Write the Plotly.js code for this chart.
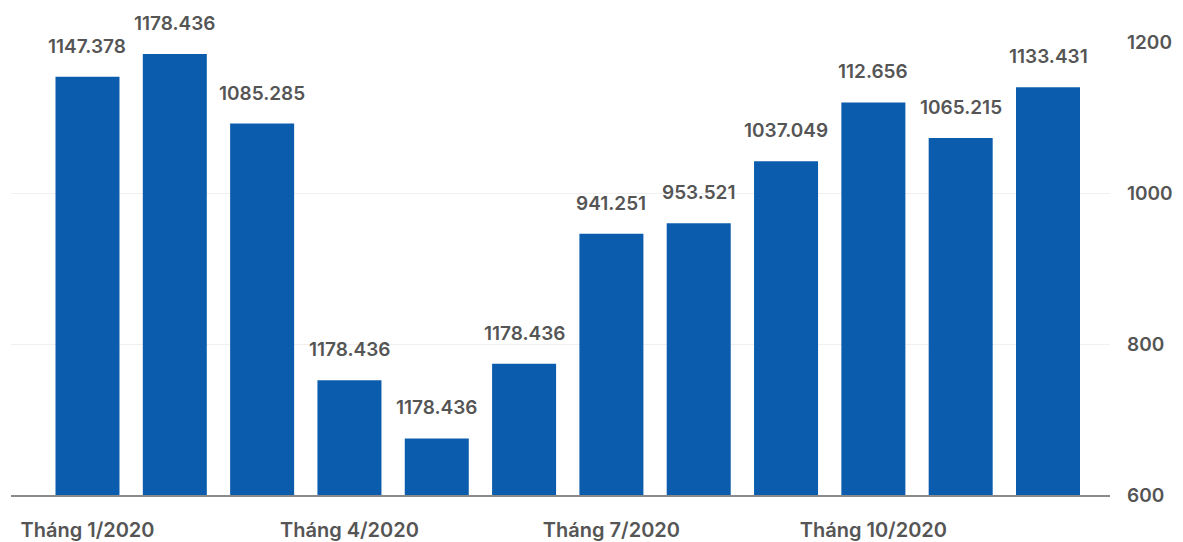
<!DOCTYPE html>
<html>
<head>
<meta charset="utf-8">
<script src="https://cdn.plot.ly/plotly-3.0.1.min.js"></script>
<style>html,body{margin:0;padding:0;background:#fff;}#chart{width:1183px;height:542px;}</style>
</head>
<body>
<div id="chart"></div>
<script>
const months = ["Tháng 1/2020","Tháng 2/2020","Tháng 3/2020","Tháng 4/2020","Tháng 5/2020","Tháng 6/2020","Tháng 7/2020","Tháng 8/2020","Tháng 9/2020","Tháng 10/2020","Tháng 11/2020","Tháng 12/2020"];
const values = [1154, 1184, 1092, 752, 675, 774, 946, 960, 1042, 1120, 1073, 1140];
const labels = ["1147.378","1178.436","1085.285","1178.436","1178.436","1178.436","941.251","953.521","1037.049","112.656","1065.215","1133.431"];
const shownTicks = ["Tháng 1/2020","Tháng 4/2020","Tháng 7/2020","Tháng 10/2020"];
const yTicks = [600, 800, 1000, 1200];

const fontFam = "Inter, 'Noto Sans', sans-serif";
const textColor = "#555555";

const trace = {
  type: "bar",
  x: months,
  y: values,
  marker: {color: "#0c5cad"},
  hoverinfo: "none"
};

const annotations = months.map((m, i) => ({
  x: m, y: values[i], xref: "x", yref: "y",
  text: labels[i], showarrow: false,
  yanchor: "bottom", yshift: 17,
  font: {family: fontFam, size: 19, color: textColor, weight: 600}
}));

const layout = {
  width: 1183, height: 542,
  margin: {l: 11, r: 73, t: 42, b: 47},
  paper_bgcolor: "#fff", plot_bgcolor: "#fff",
  bargap: 0.267,
  showlegend: false,
  xaxis: {
    type: "category",
    range: [-0.876, 11.71],
    tickmode: "array",
    tickvals: shownTicks,
    ticktext: shownTicks,
    showgrid: false,
    showline: true, linecolor: "#8a8a8a", linewidth: 1.5,
    ticks: "", ticklabelstandoff: 16,
    tickfont: {family: fontFam, size: 20, color: textColor, weight: 600},
    fixedrange: true
  },
  yaxis: {
    side: "right",
    range: [600, 1200],
    tickmode: "array",
    tickvals: yTicks,
    showgrid: true, gridcolor: "#f0f0f0", gridwidth: 1,
    zeroline: false, showline: false,
    ticks: "", ticklabelstandoff: 16,
    tickfont: {family: fontFam, size: 19, color: textColor, weight: 600},
    fixedrange: true
  },
  annotations: annotations
};

Plotly.newPlot("chart", [trace], layout, {displayModeBar: false, staticPlot: true});
</script>
</body>
</html>
